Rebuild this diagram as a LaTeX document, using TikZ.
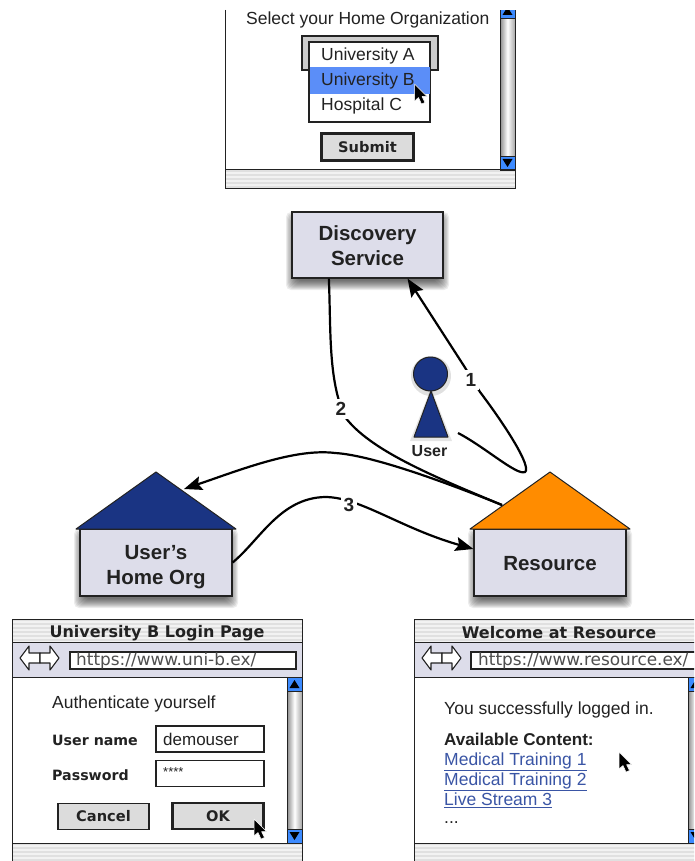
\documentclass[tikz,border=0pt]{standalone}
\usepackage{fontspec}
\setmainfont{Liberation Sans}
\newfontfamily\uifont{DejaVu Sans}
\usetikzlibrary{arrows.meta}
\definecolor{boxfill}{HTML}{DDDDEA}
\definecolor{navy}{HTML}{1A3483}
\definecolor{roofor}{HTML}{FF8C00}
\definecolor{hilite}{HTML}{5B8EF8}
\definecolor{linkc}{HTML}{3A55A5}
\definecolor{btn}{HTML}{DCDCDC}
\definecolor{scrollblue}{HTML}{3D8BFF}
\definecolor{ink}{HTML}{222222}
\tikzset{
  x=1pt,y=-1pt,
  entity/.style={draw=ink,line width=1.2pt,fill=boxfill,minimum width=152pt,minimum height=67pt,align=center,inner sep=0pt},
  entitytext/.style={align=center,inner sep=0pt,font=\fontsize{20.5}{25}\selectfont\bfseries,text=ink},
  conn/.style={draw=black,line width=2.2pt},
  arrowconn/.style={conn,-{Stealth[length=18pt,width=14pt,inset=3pt]}},
  steplabel/.style={fill=white,inner sep=3pt,font=\fontsize{19}{20}\selectfont\bfseries,text=ink},
  frameln/.style={draw=ink,line width=1pt},
  txt/.style={anchor=west,inner sep=0pt,text=ink,font=\fontsize{17.5}{18}\selectfont},
  uilabel/.style={anchor=west,inner sep=0pt,text=ink,font=\uifont\fontsize{14.2}{15}\selectfont\bfseries},
  uititle/.style={inner sep=0pt,text=ink,font=\uifont\fontsize{16}{16}\selectfont\bfseries},
  urltext/.style={anchor=west,inner sep=0pt,text=ink!80,font=\uifont\fontsize{16.9}{17}\selectfont},
  linktext/.style={txt,text=linkc,text height=13pt,text depth=4pt},
  uibutton/.style={draw=ink,fill=btn,line width=1.2pt,inner sep=0pt,font=\uifont\fontsize{14.6}{15}\selectfont\bfseries,text=ink},
  defbutton/.style={uibutton,line width=2.6pt},
  field/.style={draw=ink,fill=white,line width=1.1pt,inner sep=0pt}
}
\newcommand{\softshadow}[4]{%
  \foreach \i in {0,...,9}{%
    \fill[black,opacity=0.075,rounded corners=5pt]
      ({#1-6+1.1*\i},{#2+1*\i}) rectangle ({#3+6-1.1*\i},{#4+12-\i});}}
\newcommand{\stripes}[4]{%
  \fill[white!95!black] (#1,#2) rectangle (#3,#4);
  \foreach \k in {0,...,5}{%
    \pgfmathsetmacro{\ya}{min(#2+4*\k,#4)}%
    \pgfmathsetmacro{\yb}{min(#2+4*\k+2,#4)}%
    \fill[white!88!black] (#1,\ya) rectangle (#3,\yb);}}
\newcommand{\pointer}[2]{%
  \draw[fill=black,draw=white,line width=0.5pt,line join=round,shift={(#1,#2)}]
    (0,0) -- (0,17) -- (4,13.5) -- (7,20) -- (10.5,18.5) -- (7.5,12.5) -- (12.5,12.5) -- cycle;}
\newcommand{\scrollbar}[3]{% x, top y, bottom y
  \shade[left color=black!45,right color=black!35,middle color=white] (#1,#2) rectangle ({#1+15},#3);
  \draw[frameln] (#1,#2) -- (#1,#3);
  \fill[scrollblue,draw=ink,line width=0.6pt] (#1,#2) rectangle ({#1+15},{#2+14});
  \fill[black] ({#1+7.5},{#2+3}) -- ({#1+12.5},{#2+11}) -- ({#1+2.5},{#2+11}) -- cycle;
  \fill[scrollblue,draw=ink,line width=0.6pt] (#1,{#3-14}) rectangle ({#1+15},#3);
  \fill[black] ({#1+7.5},{#3-3}) -- ({#1+12.5},{#3-11}) -- ({#1+2.5},{#3-11}) -- cycle;}
\newcommand{\navarrows}[2]{%
  \draw[fill=white,draw=ink,line width=1.1pt,shift={(#1,#2)},line join=round]
    (0,0) -- (9,-12) -- (9,-5) -- (20,-5) -- (20,5) -- (9,5) -- (9,12) -- cycle;
  \draw[fill=white,draw=ink,line width=1.1pt,shift={({#1+39},#2)},line join=round]
    (0,0) -- (-9,-12) -- (-9,-5) -- (-19,-5) -- (-19,5) -- (-9,5) -- (-9,12) -- cycle;}
\newcommand{\browser}[2]{% left x, right x: frame with title and nav bands
  \fill[white] (#1,619) rectangle (#2,861);
  \stripes{#1}{619}{#2}{642}
  \fill[boxfill] (#1,642) rectangle (#2,677);
  \stripes{#1}{843}{#2}{861}
  \draw[frameln] (#1,642) -- (#2,642) (#1,677) -- (#2,677) (#1,843) -- (#2,843);
  \draw[frameln] (#1,870) -- (#1,619) -- (#2,619) -- (#2,870);}
\begin{document}
\begin{tikzpicture}
\useasboundingbox (0,0) rectangle (694,861);
\clip (0,0) rectangle (694,861);
\fill[white] (0,0) rectangle (694,861);

% ---------- top window
\fill[white] (225,10) rectangle (515,188);
\stripes{225}{170}{515}{188}
\scrollbar{500}{4}{170}
\fill[white] (495,0) rectangle (520,10);
\draw[frameln] (225,10) -- (225,188) -- (515,188) -- (515,10);
\draw[frameln] (225,170) -- (515,170);
\node[txt] (selecttext) at (246,19.5) {Select your Home Organization};
\draw[draw=ink,line width=1.5pt,fill=black!20] (302,36) rectangle (438,70);
\node[draw=ink,fill=white,line width=1.2pt,minimum width=121pt,minimum height=79pt,inner sep=0pt] (droplist) at (369.5,82) {};
\fill[hilite] (309.5,67) rectangle (430,94);
\draw[draw=ink,line width=1.2pt] (droplist.north west) rectangle (droplist.south east);
\node[txt] (optA) at (321,56) {University A};
\node[txt] (optB) at (321,81) {University B};
\node[txt] (optC) at (321,106) {Hospital C};
\pointer{414.5}{84}
\node[defbutton,minimum width=92pt,minimum height=27pt] (submit) at (367.5,147) {Submit};

% ---------- entities
\softshadow{292}{212}{443}{278}
\node[entity,minimum width=151pt,minimum height=66pt] (disc) at (367.5,245) {};
\node[entitytext] (disclabel) at (367.5,246) {Discovery\\Service};

\softshadow{80}{529}{232}{596}
\node[entity] (home) at (156,562.5) {};
\node[entitytext] (homelabel) at (156,567) {User's\\Home Org};
\draw[draw=ink,line width=1pt,fill=navy,line join=round] (76,529) -- (156,472) -- (236,529) -- cycle;
\coordinate (homeroof) at (184,489);

\softshadow{474}{529}{626}{596}
\node[entity] (res) at (550,562.5) {};
\node[entitytext] (reslabel) at (550,564) {Resource};
\draw[draw=ink,line width=1pt,fill=roofor,line join=round] (470,529) -- (550,472) -- (630,529) -- cycle;
\coordinate (resroof) at (502,505);

% ---------- user
\fill[black,opacity=0.12] (431,376) circle (20);
\fill[black,opacity=0.10] (410,441) -- (431,388) -- (452,441) -- cycle;
\draw[draw=ink,line width=1pt,fill=navy,line join=round] (414,437) -- (431,391) -- (448,437) -- cycle;
\node[circle,draw=ink,line width=1pt,fill=navy,minimum size=34pt,inner sep=0pt] (user) at (430.5,374) {};
\node[inner sep=0pt,font=\fontsize{16}{17}\selectfont\bfseries,text=ink] (userlabel) at (429.5,451) {User};
\coordinate (userfoot) at (458,433);

% ---------- connectors
\draw[arrowconn] (userfoot) .. controls (485,447) and (517,476) .. (525,472)
   .. controls (532,467) and (505,425) .. (480,392) -- (464,366) -- (disc.320);
\node[steplabel] (lab1) at (471,380) {1};
\draw[conn] (disc.221) .. controls (331,330) and (328,380) .. (345,417)
   .. controls (370,450) and (430,475) .. (resroof);
\node[steplabel] (lab2) at (341,409) {2};
\draw[arrowconn] (resroof) .. controls (440,480) and (370,455) .. (335,453)
   .. controls (295,448) and (240,470) .. (homeroof);
\draw[arrowconn] (home.east) .. controls (260,540) and (280,498) .. (325,497)
   .. controls (360,497) and (400,528) .. (res.170);
\node[steplabel] (lab3) at (349,505) {3};

% ---------- login window
\browser{12}{302}
\scrollbar{287}{677}{843}
\node[uititle] (logintitle) at (157,633) {University B Login Page};
\navarrows{20}{658}
\node[field,minimum width=226pt,minimum height=17pt] (loginurl) at (183,660.5) {};
\node[urltext] (loginurltext) at (76,661) {https://www.uni-b.ex/};
\node[txt] (auth) at (52,704) {Authenticate yourself};
\node[uilabel] (unamel) at (52,740) {User name};
\node[uilabel] (passl) at (52,775) {Password};
\node[field,minimum width=108pt,minimum height=26pt] (unamef) at (210,739) {};
\node[txt,font=\fontsize{17}{18}\selectfont] (unamev) at (163,739.5) {demouser};
\node[field,minimum width=108pt,minimum height=26pt] (passf) at (210,773.5) {};
\node[txt,font=\fontsize{13}{15}\selectfont] (passv) at (163,772) {****};
\node[uibutton,minimum width=91pt,minimum height=26pt] (cancel) at (103.5,816.5) {Cancel};
\node[defbutton,minimum width=91pt,minimum height=26pt] (okbtn) at (218,816) {OK};
\pointer{254}{819}

% ---------- resource window
\browser{414}{704}
\scrollbar{688}{677}{843}
\node[uititle] (welcome) at (559,633) {Welcome at Resource};
\navarrows{422}{658}
\node[field,minimum width=226pt,minimum height=17pt] (resurl) at (584,660.5) {};
\node[urltext] (resurltext) at (478,661) {https://www.resource.ex/};
\node[txt] (loggedin) at (444,710) {You successfully logged in.};
\node[txt,font=\fontsize{17.1}{18}\selectfont\bfseries] (avail) at (444,739.5) {Available Content:};
\node[linktext] (link1) at (444,761) {\underline{Medical Training 1}};
\node[linktext] (link2) at (444,781) {\underline{Medical Training 2}};
\node[linktext] (link3) at (444,801) {\underline{Live Stream 3}};
\node[txt] (dots) at (444,823) {...};
\pointer{619}{752}
\end{tikzpicture}
\end{document}
